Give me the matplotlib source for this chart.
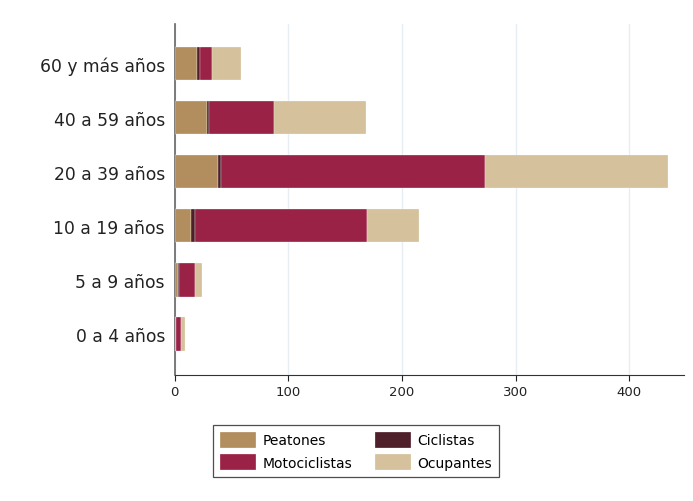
"""Stacked horizontal bars: victims by age group and user type."""

import matplotlib.pyplot as plt

age_groups = ["0 a 4 años", "5 a 9 años", "10 a 19 años", "20 a 39 años",
              "40 a 59 años", "60 y más años"]
peatones = [1, 3, 14, 38, 28, 20]
ciclistas = [0.5, 1, 3.5, 3, 2.5, 2]
motociclistas = [4, 14, 152, 232, 57, 11]
ocupantes = [4, 6, 45, 161, 81, 25]

series = [
    ("Peatones", peatones, "#B28E5E"),
    ("Ciclistas", ciclistas, "#4F1F2A"),
    ("Motociclistas", motociclistas, "#9B2247"),
    ("Ocupantes", ocupantes, "#D5C19B"),
]

plt.rcParams['font.family'] = ['DejaVu Sans']

fig = plt.figure(figsize=(6.93, 5.02), dpi=100)
ax = fig.add_axes([174.7 / 693, 1 - 376 / 502, (684 - 174.7) / 693, (376 - 25) / 502])

left = [0] * len(age_groups)
handles = {}
for name, vals, color in series:
    h = ax.barh(age_groups, vals, left=left, height=0.62, color=color,
                edgecolor="white", linewidth=0.2, label=name, zorder=3)
    handles[name] = h
    left = [a + b for a, b in zip(left, vals)]

ax.set_xlim(0, 448)
ax.set_ylim(-0.76, 5.73)
ax.set_xticks([0, 100, 200, 300, 400])
ax.grid(axis='x', color="#e6edf3", linewidth=1, zorder=0)
ax.set_axisbelow(True)

for s in ("top", "right"):
    ax.spines[s].set_visible(False)
ax.spines["left"].set_color("#666666")
ax.spines["left"].set_linewidth(1.2)
ax.spines["bottom"].set_color("#333333")
ax.tick_params(axis='y', length=0, labelsize=12.3, pad=7, colors="#222222")
ax.tick_params(axis='x', length=4, labelsize=9.5, colors="#222222")

order = ["Peatones", "Motociclistas", "Ciclistas", "Ocupantes"]
leg = fig.legend([handles[n] for n in order], order, ncol=2,
                 loc="center", bbox_to_anchor=(356 / 693, 1 - 452 / 502),
                 frameon=True, fancybox=False, edgecolor="#222222",
                 fontsize=10, handlelength=2.6, handleheight=1.4,
                 columnspacing=1.6, borderpad=0.5, labelspacing=0.45,
                 handletextpad=0.5)
leg.get_frame().set_linewidth(0.9)

fig.savefig("out.png", dpi=100)
